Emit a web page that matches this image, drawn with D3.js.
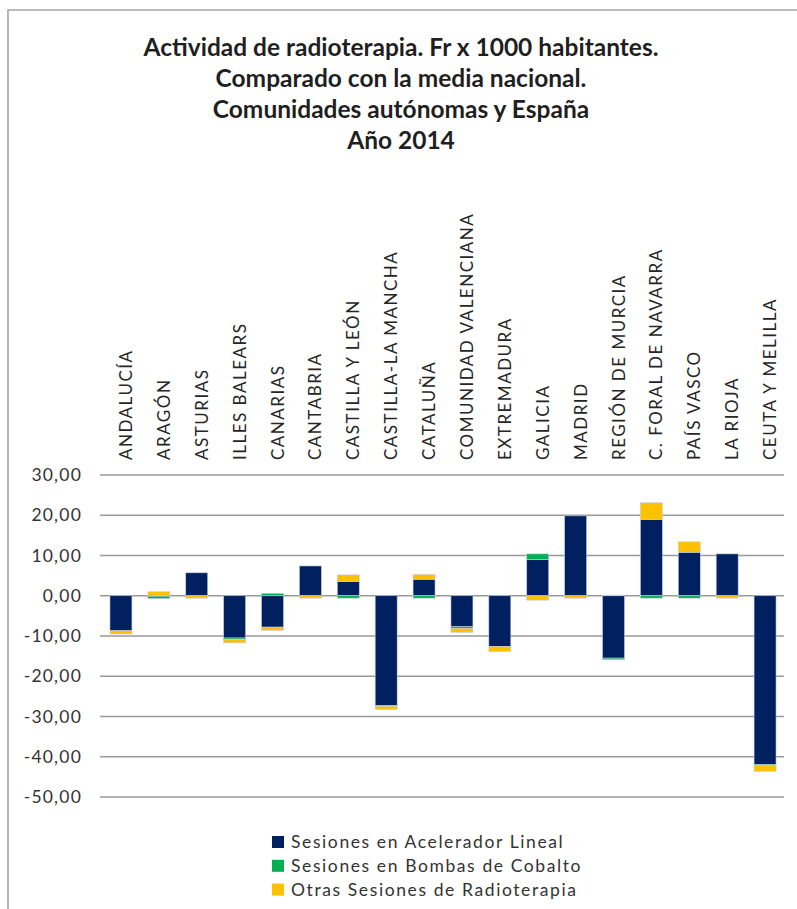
<!DOCTYPE html>
<html><head><meta charset="utf-8">
<script src="https://cdn.jsdelivr.net/npm/d3@7"></script>
<style>
html,body{margin:0;padding:0;background:#fff;}
svg{display:block;font-family:Lato, "Open Sans", sans-serif;}
</style></head>
<body>
<svg id="chart" width="797" height="909"></svg>
<script>
const titleLines = ["Actividad de radioterapia. Fr x 1000 habitantes.","Comparado con la media nacional.","Comunidades autónomas y España","Año 2014"];
const categories = ["ANDALUCÍA","ARAGÓN","ASTURIAS","ILLES BALEARS","CANARIAS","CANTABRIA","CASTILLA Y LEÓN","CASTILLA-LA MANCHA","CATALUÑA","COMUNIDAD VALENCIANA","EXTREMADURA","GALICIA","MADRID","REGIÓN DE MURCIA","C. FORAL DE NAVARRA","PAÍS VASCO","LA RIOJA","CEUTA Y MELILLA"];
const seriesNames = ["Sesiones en Acelerador Lineal","Sesiones en Bombas de Cobalto","Otras Sesiones de Radioterapia"];
const acelerador = [-8.7,-0.1,5.7,-10.5,-7.8,7.4,3.5,-27.3,4.1,-7.7,-12.6,9.0,19.85,-15.5,18.9,10.8,10.4,-41.9];
const cobalto    = [0,-0.6,0,-0.4,0.6,0,-0.6,-0.15,-0.6,-0.4,0,1.4,0,-0.4,-0.6,-0.6,0,-0.3];
const otras      = [-0.8,1.0,-0.6,-0.8,-0.8,-0.6,1.7,-0.8,1.2,-1.0,-1.3,-1.1,-0.6,0.15,4.2,2.6,-0.6,-1.4];
const yTicks = [30,20,10,0,-10,-20,-30,-40,-50];
const colors = ["#002060","#00B050","#FFC000"];

const svg = d3.select("#chart");
const W = 797, H = 909;
const plotL = 102, plotR = 784, plotT = 475, plotB = 797;

// frame
svg.append("path").attr("d",`M8,${H+5}V10H${W+5}`).attr("fill","none").attr("stroke","#a6a6a6").attr("stroke-width",1.6);

// title
svg.append("g").selectAll("text").data(titleLines).join("text")
  .attr("x",401).attr("y",(d,i)=>55.5+i*31.3)
  .attr("text-anchor","middle").attr("font-weight","bold").attr("font-size",24.5)
  .attr("fill","#1f1f1f").text(d=>d);

const x = d3.scaleBand().domain(categories).range([plotL,plotR]).paddingInner(0.42).paddingOuter(0.21);
const y = d3.scaleLinear().domain([-50,30]).range([plotB,plotT]);

// gridlines
svg.append("g").selectAll("line").data(yTicks).join("line")
  .attr("x1",100).attr("x2",plotR).attr("y1",d=>y(d)).attr("y2",d=>y(d))
  .attr("stroke","#9a9a9a").attr("stroke-width",1.7);

// y labels
const loc = d3.formatLocale({decimal:",",thousands:".",grouping:[3],currency:["","€"],minus:"-"});
const fmt = loc.format(".2f");
const yAxis = svg.append("g").attr("transform",`translate(100,0)`)
  .call(d3.axisLeft(y).tickValues(yTicks).tickFormat(fmt).tickSize(0).tickPadding(18));
yAxis.select(".domain").remove();
yAxis.selectAll("text").attr("font-family","Lato, sans-serif").attr("font-size",17.5)
  .attr("fill","#333").style("letter-spacing","1.2px");

// stacked bars
const table = categories.map((c,i)=>({cat:c, s0:acelerador[i], s1:cobalto[i], s2:otras[i]}));
const stack = d3.stack().keys(["s0","s1","s2"]).offset(d3.stackOffsetDiverging);
const layers = stack(table);
svg.append("g").selectAll("g").data(layers).join("g")
  .attr("fill",(d,i)=>colors[i])
  .selectAll("rect").data(d=>d).join("rect")
  .attr("x",d=>x(d.data.cat)).attr("width",x.bandwidth())
  .attr("y",d=>y(Math.max(d[0],d[1]))).attr("height",d=>Math.abs(y(d[0])-y(d[1])))
  .attr("stroke","#c5cce0").attr("stroke-width",0.6);

// category labels
svg.append("g").selectAll("text").data(categories).join("text")
  .attr("transform",d=>`translate(${x(d)+x.bandwidth()/2+11},460) rotate(-90)`)
  .attr("font-size",17).attr("fill","#262626").style("letter-spacing","1.5px")
  .text(d=>d);

// legend
const lg = svg.append("g").selectAll("g").data(seriesNames).join("g")
  .attr("transform",(d,i)=>`translate(272,${842+i*23.8})`);
lg.append("rect").attr("x",0).attr("y",-6).attr("width",12).attr("height",12).attr("fill",(d,i)=>colors[i]);
lg.append("text").attr("x",19).attr("y",6).attr("font-size",17.5).attr("fill","#333")
  .style("letter-spacing","1.6px").text(d=>d);
</script>
</body></html>
